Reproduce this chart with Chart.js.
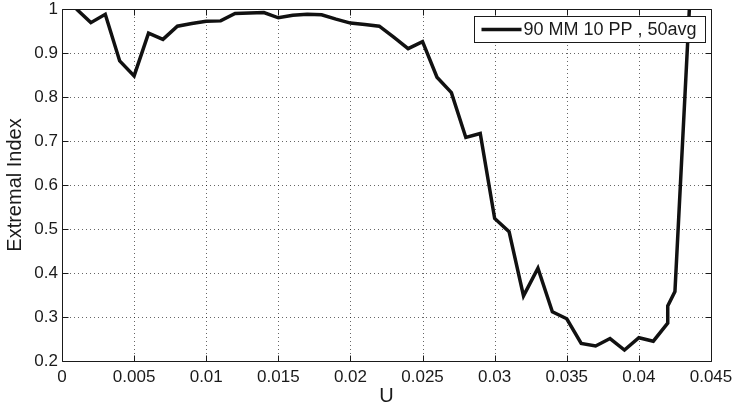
<!DOCTYPE html>
<html>
<head>
<meta charset="utf-8">
<script src="https://cdn.jsdelivr.net/npm/chart.js@4.4.1/dist/chart.umd.min.js"></script>
<style>
  html, body { margin: 0; padding: 0; background: #fff; }
  #wrap { width: 733px; height: 408px; }
</style>
</head>
<body>
<div id="wrap"><canvas id="c"></canvas></div>
<script>
// values
const uValues = [
  0.001, 0.002, 0.003, 0.004, 0.005, 0.006, 0.007, 0.008, 0.009, 0.010,
  0.011, 0.012, 0.013, 0.014, 0.015, 0.016, 0.017, 0.018, 0.019, 0.020,
  0.021, 0.022, 0.023, 0.024, 0.025, 0.026, 0.027, 0.028, 0.029, 0.030,
  0.031, 0.032, 0.033, 0.034, 0.035, 0.036, 0.037, 0.038, 0.039, 0.040,
  0.041, 0.042, 0.042, 0.0425, 0.0435
];
const extremalIndex = [
  1.000, 0.969, 0.988, 0.882, 0.848, 0.945, 0.931, 0.961, 0.967, 0.972,
  0.973, 0.990, 0.991, 0.992, 0.980, 0.986, 0.988, 0.987, 0.977, 0.968,
  0.965, 0.961, 0.936, 0.910, 0.926, 0.845, 0.810, 0.708, 0.717, 0.524,
  0.494, 0.348, 0.411, 0.312, 0.296, 0.240, 0.234, 0.251, 0.225, 0.253,
  0.245, 0.286, 0.325, 0.358, 1.000
];
const seriesLabel = '90 MM 10 PP , 50avg';
const xTicks = [0, 0.005, 0.01, 0.015, 0.02, 0.025, 0.03, 0.035, 0.04, 0.045];
const yTicks = [0.2, 0.3, 0.4, 0.5, 0.6, 0.7, 0.8, 0.9, 1];

const FONT = "'Liberation Sans', Arial, Helvetica, sans-serif";
const INK = '#1a1a1a';

/* MATLAB-ish look: dotted grid, boxed axes, inward ticks, boxed legend */
const matlabBox = {
  id: 'matlabBox',
  beforeDatasetsDraw(chart) {
    const { ctx, chartArea: a, scales: { x, y } } = chart;
    ctx.save();
    ctx.strokeStyle = 'rgba(0,0,0,0.6)';
    ctx.lineWidth = 1;
    ctx.setLineDash([1, 3]);
    ctx.beginPath();
    x.ticks.forEach(t => {
      const px = Math.round(x.getPixelForValue(t.value)) + 0.5;
      if (px > a.left + 2 && px < a.right - 2) { ctx.moveTo(px, a.top); ctx.lineTo(px, a.bottom); }
    });
    y.ticks.forEach(t => {
      const py = Math.round(y.getPixelForValue(t.value)) + 0.5;
      if (py > a.top + 2 && py < a.bottom - 2) { ctx.moveTo(a.left, py); ctx.lineTo(a.right, py); }
    });
    ctx.stroke();
    ctx.restore();
  },
  afterDraw(chart) {
    const { ctx, chartArea: a, scales: { x, y } } = chart;
    const L = Math.round(a.left) + 0.5, R = Math.round(a.right) + 0.5;
    const T = Math.round(a.top) + 0.5, B = Math.round(a.bottom) + 0.5;
    const tick = 6;
    ctx.save();
    ctx.strokeStyle = INK;
    ctx.lineWidth = 1;
    ctx.beginPath();
    ctx.rect(L, T, R - L, B - T);
    x.ticks.forEach(t => {
      const px = Math.round(x.getPixelForValue(t.value)) + 0.5;
      ctx.moveTo(px, B); ctx.lineTo(px, B - tick);
      ctx.moveTo(px, T); ctx.lineTo(px, T + tick);
    });
    y.ticks.forEach(t => {
      const py = Math.round(y.getPixelForValue(t.value)) + 0.5;
      ctx.moveTo(L, py); ctx.lineTo(L + tick, py);
      ctx.moveTo(R, py); ctx.lineTo(R - tick, py);
    });
    ctx.stroke();

    // legend
    const bw = 231, bh = 26;
    const bx = Math.round(a.right - 6 - bw) + 0.5, by = Math.round(a.top + 7) + 0.5;
    ctx.fillStyle = '#fff';
    ctx.fillRect(bx, by, bw, bh);
    ctx.strokeRect(bx, by, bw, bh);
    const cy = by + bh / 2;
    ctx.strokeStyle = '#111';
    ctx.lineWidth = 3.5;
    ctx.beginPath();
    ctx.moveTo(bx + 7, cy); ctx.lineTo(bx + 47, cy);
    ctx.stroke();
    ctx.fillStyle = INK;
    ctx.font = '18px ' + FONT;
    ctx.textBaseline = 'middle';
    ctx.fillText(chart.data.datasets[0].label, bx + 49, cy + 1);
    ctx.restore();
  }
};

new Chart(document.getElementById('c'), {
  type: 'line',
  data: {
    datasets: [{
      label: seriesLabel,
      data: uValues.map((u, i) => ({ x: u, y: extremalIndex[i] })),
      borderColor: '#111',
      borderWidth: 3.5,
      pointRadius: 0,
      tension: 0,
      fill: false
    }]
  },
  options: {
    responsive: true,
    maintainAspectRatio: false,
    animation: false,
    layout: { padding: { top: 9, right: 22, bottom: 0, left: 0 } },
    plugins: { legend: { display: false }, tooltip: { enabled: false } },
    scales: {
      x: {
        type: 'linear',
        min: 0, max: 0.045,
        afterBuildTicks: s => { s.ticks = xTicks.map(v => ({ value: v })); },
        afterFit: s => { s.height = 47; s.paddingLeft = 0; s.paddingRight = 0; },
        grid: { display: false, drawTicks: false },
        border: { display: false },
        ticks: {
          color: INK, padding: 6, maxRotation: 0, autoSkip: false,
          font: { family: FONT, size: 17 },
          callback: v => String(+v.toFixed(3))
        },
        title: {
          display: true, text: 'U', color: INK,
          font: { family: FONT, size: 20, lineHeight: 1.2 },
          padding: { top: 0, bottom: 0 }
        }
      },
      y: {
        min: 0.2, max: 1,
        afterBuildTicks: s => { s.ticks = yTicks.map(v => ({ value: v })); },
        afterFit: s => { s.width = 62; s.paddingTop = 0; s.paddingBottom = 0; },
        grid: { display: false, drawTicks: false },
        border: { display: false },
        ticks: {
          color: INK, padding: 4, autoSkip: false,
          font: { family: FONT, size: 17 },
          callback: v => String(+v.toFixed(1))
        },
        title: {
          display: true, text: 'Extremal Index', color: INK,
          font: { family: FONT, size: 20, lineHeight: 1.2 },
          padding: { top: 3, bottom: 0 }
        }
      }
    }
  },
  plugins: [matlabBox]
});
</script>
</body>
</html>
